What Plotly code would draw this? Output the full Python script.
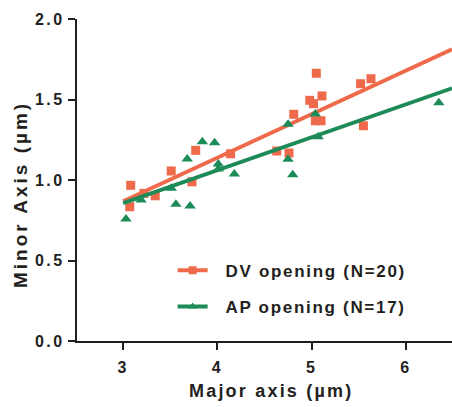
import numpy as np
import plotly.graph_objects as go

# DV opening measurements (major axis, minor axis), µm
dv_major = [3.08, 3.07, 3.22, 3.34, 3.51, 3.73, 3.77, 4.14, 4.63, 4.76,
            4.81, 4.98, 5.02, 5.05, 5.11, 5.04, 5.10, 5.52, 5.63, 5.55]
dv_minor = [0.967, 0.834, 0.917, 0.902, 1.056, 0.989, 1.184, 1.163, 1.180, 1.168,
            1.408, 1.495, 1.474, 1.663, 1.522, 1.368, 1.368, 1.598, 1.629, 1.337]

# AP opening measurements (major axis, minor axis), µm
ap_major = [3.03, 3.19, 3.51, 3.56, 3.71, 3.68, 3.84, 3.97, 4.01, 4.01,
            4.18, 4.75, 5.04, 5.07, 4.75, 4.80, 6.35]
ap_minor = [0.758, 0.876, 0.948, 0.849, 0.839, 1.130, 1.238, 1.232, 1.099, 1.068,
            1.037, 1.346, 1.410, 1.269, 1.129, 1.033, 1.480]

x_ticks = [3, 4, 5, 6]
y_ticks = [0.0, 0.5, 1.0, 1.5, 2.0]
fit_span = [3.0, 6.49]

DV_COLOR = "#EF6A4B"
AP_COLOR = "#1D8B57"
AXIS_COLOR = "#231F20"
FONT = "Liberation Sans, Arial, sans-serif"


def spaced(text, ls):
    """Wrap text in a span with extra letter spacing."""
    return f'<span style="letter-spacing:{ls}px">{text}</span>'


fig = go.Figure()


def add_group(name, xs, ys, color, symbol, size, legend_id):
    slope, intercept = np.polyfit(xs, ys, 1)
    fx = np.array(fit_span)
    fig.add_trace(go.Scatter(
        x=fx, y=slope * fx + intercept, mode="lines",
        line=dict(color=color, width=3.8), showlegend=False, hoverinfo="skip",
    ))
    fig.add_trace(go.Scatter(
        x=xs, y=ys, mode="markers", name=name,
        marker=dict(color=color, symbol=symbol, size=size, line=dict(width=0)),
        showlegend=False,
    ))
    # legend entry: line with a small marker
    fig.add_trace(go.Scatter(
        x=[None], y=[None], mode="lines+markers",
        name=spaced("&nbsp;&nbsp;" + name, 1.7),
        line=dict(color=color, width=4),
        marker=dict(color=color, symbol=symbol, size=8),
        legend=legend_id,
    ))


add_group("DV opening (N=20)", dv_major, dv_minor, DV_COLOR, "square", 9, "legend")
add_group("AP opening (N=17)", ap_major, ap_minor, AP_COLOR, "triangle-up", 10, "legend2")

legend_font = dict(size=17, family=FONT, color=AXIS_COLOR, weight="bold")
legend_common = dict(
    xanchor="left", yanchor="middle", bgcolor="rgba(0,0,0,0)",
    itemwidth=30, font=legend_font, borderwidth=0,
)

tick_font = dict(size=16, family=FONT, color=AXIS_COLOR, weight="bold")
title_font = dict(size=18, family=FONT, color=AXIS_COLOR, weight="bold")

fig.update_layout(
    width=452, height=407,
    margin=dict(l=77, r=0, t=19, b=66),
    paper_bgcolor="white", plot_bgcolor="white",
    font=dict(family=FONT, color=AXIS_COLOR),
    legend=dict(x=0.255, y=(341 - 270.7) / 322, **legend_common),
    legend2=dict(x=0.255, y=(341 - 307) / 322, **legend_common),
    xaxis=dict(
        range=[2.51, 6.49], tickvals=x_ticks,
        ticktext=[spaced(str(v), 2.5) for v in x_ticks],
        showgrid=False, zeroline=False, showline=True, linewidth=2.2,
        linecolor=AXIS_COLOR, ticks="outside", ticklen=7, tickwidth=2.2,
        tickcolor=AXIS_COLOR, tickfont=tick_font, ticklabelstandoff=4,
    ),
    yaxis=dict(
        range=[0, 2.0], tickvals=y_ticks,
        ticktext=[spaced(f"{v:.1f}", 2.5) for v in y_ticks],
        showgrid=False, zeroline=False, showline=True, linewidth=2.2,
        linecolor=AXIS_COLOR, ticks="outside", ticklen=7, tickwidth=2.2,
        tickcolor=AXIS_COLOR, tickfont=tick_font, ticklabelstandoff=0,
    ),
    annotations=[
        dict(text=spaced("Major axis (µm)", 2.2), xref="paper", yref="paper",
             x=(271 - 77) / 375, y=-(391 - 341) / 322,
             xanchor="center", yanchor="middle", showarrow=False, font=title_font),
        dict(text=spaced("Minor Axis (µm)", 3), xref="paper", yref="paper",
             x=-(77 - 21) / 375, y=(341 - 195) / 322, textangle=-90,
             xanchor="center", yanchor="middle", showarrow=False,
             font=dict(title_font, size=19)),
    ],
)

fig.write_html("out.html")
